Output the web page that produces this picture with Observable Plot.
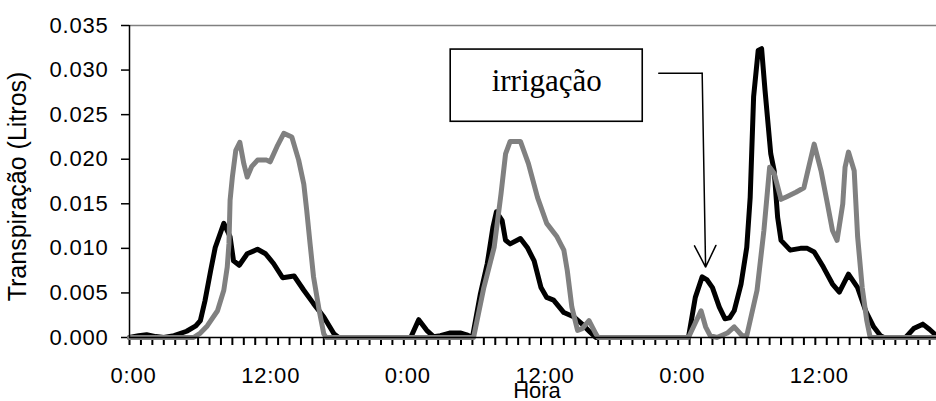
<!DOCTYPE html>
<html>
<head>
<meta charset="utf-8">
<script src="https://cdn.jsdelivr.net/npm/d3@7"></script>
<script src="https://cdn.jsdelivr.net/npm/@observablehq/plot@0.6"></script>
<style>
  html, body { margin: 0; padding: 0; background: #fff; }
  #chart svg { display: block; }
</style>
</head>
<body>
<div id="chart"></div>
<script>
// ---- Data (hours since first 0:00, transpiration in litres) ----
const blackHours = [0,0.8,1.5,2.3,3.0,3.9,5.0,5.8,6.2,6.6,7.1,7.5,8.25,8.8,9.1,9.6,10.3,11.2,11.9,12.6,13.4,14.4,15.25,16.1,17.0,17.9,18.3,
  24.6,25.3,26.0,26.6,27.2,28.0,29.0,29.5,30.0,30.7,31.3,31.8,32.1,32.6,32.9,33.3,34.2,34.8,35.4,36.0,36.5,37.1,38.0,38.9,39.6,40.3,40.8,
  48.9,49.5,50.1,50.5,51.0,51.6,52.1,52.5,52.9,53.5,54.0,54.3,54.6,55.0,55.3,55.6,56.1,56.4,56.7,57.0,57.8,58.7,59.3,59.9,60.7,61.5,62.1,62.9,63.7,64.4,65.1,65.7,66.0,
  67.9,68.6,69.4,70.0,70.6];
const blackValues = [0,0.0002,0.0003,0.0001,0,0.0002,0.0007,0.0013,0.0019,0.0041,0.0075,0.0101,0.0128,0.0113,0.0086,0.0081,0.0094,0.0099,0.0094,0.0083,0.0067,0.0069,0.0053,0.0038,0.0023,0.0004,0,
  0,0.0020,0.0008,0.0001,0.0002,0.0005,0.0005,0.0003,0,0.0049,0.0083,0.0124,0.0141,0.0131,0.0109,0.0105,0.0111,0.0101,0.0086,0.0056,0.0045,0.0042,0.0028,0.0023,0.0015,0.0006,0,
  0,0.0045,0.0068,0.0065,0.0056,0.0034,0.0021,0.0022,0.0030,0.0060,0.0101,0.0157,0.0270,0.0322,0.0324,0.0277,0.0206,0.0187,0.0135,0.0109,0.0098,0.0100,0.0100,0.0096,0.0079,0.0060,0.0051,0.0071,0.0056,0.0030,0.0012,0.0002,0,
  0,0.0010,0.0015,0.0009,0.0002];

const grayHours = [0,5.6,6.2,6.8,7.7,8.25,8.55,8.7,8.8,9.0,9.3,9.65,10.0,10.3,10.7,11.2,12.0,12.3,12.9,13.5,14.2,14.8,15.25,15.5,15.8,16.1,16.6,17.0,17.2,
  30.1,31.0,31.9,32.5,32.9,33.3,34.2,34.9,35.7,36.5,37.4,38.0,38.3,38.7,39.2,39.6,40.2,40.8,41.0,
  48.9,50.0,50.4,50.8,51.4,52.3,52.9,53.6,54.0,54.9,55.5,56.0,56.4,57.0,57.5,58.3,59.0,59.4,59.9,60.5,61.0,61.5,61.9,62.4,62.6,62.9,63.4,63.7,64.1,64.5,64.8,70.6];
const grayValues = [0,0,0.0005,0.0013,0.0030,0.0053,0.0079,0.0105,0.0154,0.0180,0.0210,0.0219,0.0195,0.0180,0.0192,0.0199,0.0199,0.0197,0.0214,0.0229,0.0225,0.0199,0.0172,0.0143,0.0105,0.0068,0.0030,0.0004,0,
  0,0.0056,0.0101,0.0161,0.0206,0.0220,0.0220,0.0195,0.0157,0.0128,0.0113,0.0098,0.0075,0.0034,0.0008,0.0010,0.0019,0.0004,0,
  0,0.0030,0.0012,0.0002,0,0.0005,0.0012,0.0002,0.0002,0.0053,0.0120,0.0191,0.0184,0.0155,0.0158,0.0163,0.0168,0.0190,0.0217,0.0187,0.0154,0.0120,0.0109,0.0150,0.0191,0.0208,0.0187,0.0113,0.0056,0.0019,0,0];

const yTicks = [0,0.005,0.010,0.015,0.020,0.025,0.030,0.035];
const xLabelHours = [0,12,24,36,48,60];
const xLabels = ["0:00","12:00","0:00","12:00","0:00","12:00"];
const hourTicks = d3.range(0, 71, 1);
const xTitle = "Hora";
const yTitle = "Transpiração (Litros)";
const noteText = "irrigação";

// annotation geometry in data units (hours, litres)
const noteBox = {x1: 28.1, x2: 44.9, y1: 0.0242, y2: 0.0323};
const noteTextPos = {x: 36.5, y: 0.0277};
const connector = [{x: 46.3, y: 0.02965}, {x: 50.1, y: 0.02965}];
const arrowSeg = {x1: 50.1, y1: 0.02965, x2: 50.4, y2: 0.0079};

const black = blackHours.map((h, i) => ({h, v: blackValues[i]}));
const gray = grayHours.map((h, i) => ({h, v: grayValues[i]}));
const labelMap = new Map(xLabelHours.map((h, i) => [h, xLabels[i]]));

const plot = Plot.plot({
  width: 936,
  height: 401,
  marginLeft: 129,
  marginRight: 0,
  marginTop: 25,
  marginBottom: 64,
  style: {fontFamily: "'Liberation Sans', Arial, sans-serif", fontSize: "22px", background: "#fff"},
  x: {type: "linear", domain: [0, 70.6], axis: null},
  y: {domain: [0, 0.035], axis: null},
  marks: [
    Plot.axisX({ticks: hourTicks, tickSize: 8, tickFormat: () => "", stroke: "black", strokeWidth: 2}),
    Plot.axisX({ticks: xLabelHours, tickSize: 0, tickPadding: 30, tickFormat: d => labelMap.get(d), fontSize: 22, dx: 4, fill: "black"}),
    Plot.axisY({ticks: yTicks, tickSize: 8, tickPadding: 13, tickFormat: d3.format(".3f"), fontSize: 22, stroke: "black", strokeWidth: 1.5, fill: "black"}),
    Plot.ruleY([0.035], {stroke: "#808080", strokeWidth: 1.5}),
    Plot.line(black, {x: "h", y: "v", stroke: "black", strokeWidth: 5, strokeLinejoin: "round", strokeLinecap: "round"}),
    Plot.line(gray, {x: "h", y: "v", stroke: "#808080", strokeWidth: 5, strokeLinejoin: "round", strokeLinecap: "round"}),
    Plot.ruleY([0], {stroke: "black", strokeWidth: 1.5}),
    Plot.ruleX([0], {stroke: "black", strokeWidth: 1.5}),
    Plot.rect([noteBox], {x1: "x1", x2: "x2", y1: "y1", y2: "y2", fill: "white", stroke: "black", strokeWidth: 1.6}),
    Plot.text([noteTextPos], {x: "x", y: "y", text: () => noteText, fontFamily: "'Liberation Serif', 'Times New Roman', serif", fontSize: 31, textAnchor: "middle", lineAnchor: "bottom", fill: "black"}),
    Plot.line(connector, {x: "x", y: "y", stroke: "black", strokeWidth: 1.5}),
    Plot.arrow([arrowSeg], {x1: "x1", y1: "y1", x2: "x2", y2: "y2", stroke: "black", strokeWidth: 1.5, headLength: 24, headAngle: 53}),
    Plot.text([xTitle], {frameAnchor: "bottom", lineAnchor: "bottom", dy: 60, dx: 4, fontSize: 22, fill: "black"}),
    Plot.text([yTitle], {frameAnchor: "left", rotate: -90, lineAnchor: "bottom", textAnchor: "middle", dx: -104, dy: 5, fontSize: 25, fill: "black"})
  ]
});

d3.select(plot).selectAll('[aria-label="x-axis tick label"] text, [aria-label="y-axis tick label"] text')
  .style("letter-spacing", "0.8px");
document.getElementById("chart").appendChild(plot);
</script>
</body>
</html>
